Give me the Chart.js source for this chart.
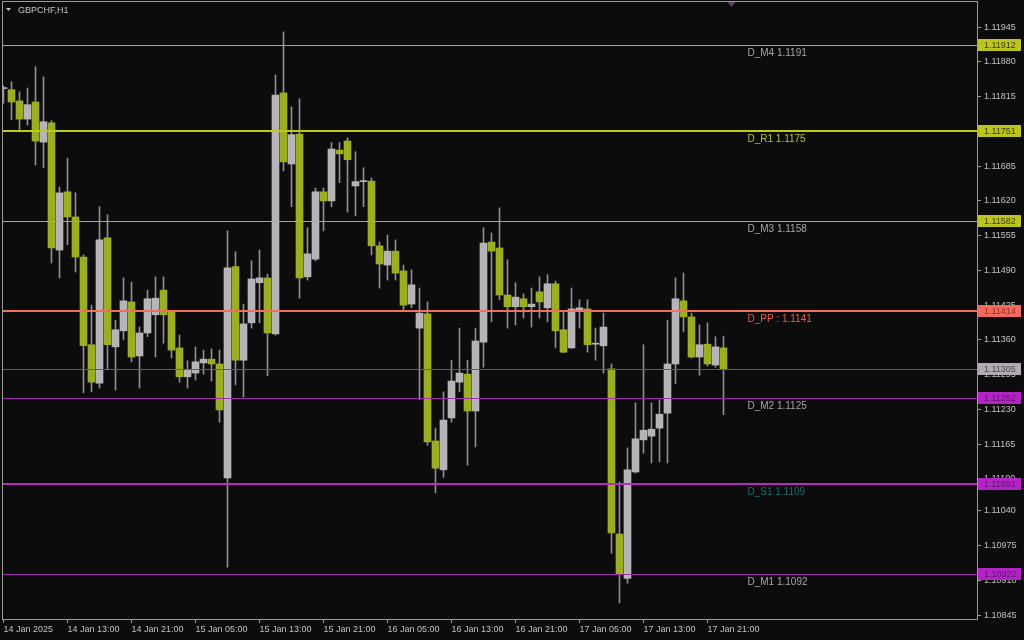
<!DOCTYPE html>
<html>
<head>
<meta charset="utf-8">
<title>GBPCHF,H1</title>
<script src="https://cdn.jsdelivr.net/npm/chart.js@4.4.1/dist/chart.umd.min.js"></script>
<style>
  html, body { margin: 0; padding: 0; background: #0c0c0c; overflow: hidden; }
  canvas { display: block; }
</style>
</head>
<body>
<canvas id="chart-area" width="1024" height="640"></canvas>
<script>
// GBPCHF H1 candles, 14 Jan 05:00 .. 17 Jan 23:00
const opens = [
  1.11830, 1.11828, 1.11807, 1.11773, 1.11805, 1.11730, 1.11766, 1.11528, 1.11637, 1.11590,
  1.11515, 1.11351, 1.11279, 1.11551, 1.11347, 1.11377, 1.11431, 1.11330, 1.11373, 1.11407,
  1.11453, 1.11412, 1.11345, 1.11291, 1.11298, 1.11317, 1.11324, 1.11315, 1.11102, 1.11497,
  1.11322, 1.11392, 1.11467, 1.11476, 1.11371, 1.11822, 1.11689, 1.11745, 1.11478, 1.11511,
  1.11637, 1.11620, 1.11715, 1.11732, 1.11648, 1.11656, 1.11657, 1.11536, 1.11500, 1.11526,
  1.11489, 1.11427, 1.11382, 1.11409, 1.11171, 1.11117, 1.11214, 1.11281, 1.11296, 1.11227,
  1.11356, 1.11543, 1.11532, 1.11444, 1.11422, 1.11437, 1.11422, 1.11450, 1.11420, 1.11465,
  1.11379, 1.11345, 1.11414, 1.11418, 1.11352, 1.11349, 1.11306, 1.10997, 1.10914, 1.11113,
  1.11173, 1.11180, 1.11195, 1.11223, 1.11315, 1.11433, 1.11403, 1.11328, 1.11352, 1.11313,
  1.11345
];
const highs = [
  1.11835, 1.11843, 1.11824, 1.11831, 1.11871, 1.11852, 1.11770, 1.11646, 1.11700, 1.11635,
  1.11519, 1.11425, 1.11609, 1.11594, 1.11397, 1.11476, 1.11468, 1.11384, 1.11453, 1.11478,
  1.11478, 1.11414, 1.11369, 1.11321, 1.11347, 1.11341, 1.11343, 1.11341, 1.11564, 1.11525,
  1.11427, 1.11508, 1.11528, 1.11483, 1.11856, 1.11936, 1.11796, 1.11811, 1.11570, 1.11644,
  1.11644, 1.11729, 1.11729, 1.11738, 1.11712, 1.11682, 1.11663, 1.11543, 1.11556, 1.11547,
  1.11500, 1.11491, 1.11457, 1.11431, 1.11195, 1.11263, 1.11322, 1.11382, 1.11322, 1.11382,
  1.11570, 1.11560, 1.11607, 1.11510, 1.11467, 1.11446, 1.11457, 1.11478, 1.11482, 1.11470,
  1.11412, 1.11457, 1.11435, 1.11435, 1.11382, 1.11410, 1.11315, 1.11094, 1.11158, 1.11242,
  1.11351, 1.11242, 1.11248, 1.11397, 1.11476, 1.11485, 1.11410, 1.11388, 1.11392, 1.11366,
  1.11367
];
const lows = [
  1.11803, 1.11772, 1.11749, 1.11762, 1.11687, 1.11682, 1.11504, 1.11476, 1.11538, 1.11487,
  1.11261, 1.11263, 1.11270, 1.11304, 1.11266, 1.11360, 1.11319, 1.11270, 1.11366, 1.11328,
  1.11354, 1.11326, 1.11281, 1.11270, 1.11285, 1.11296, 1.11283, 1.11206, 1.10935, 1.11276,
  1.11253, 1.11382, 1.11392, 1.11293, 1.11369, 1.11676, 1.11609, 1.11438, 1.11472, 1.11508,
  1.11564, 1.11609, 1.11654, 1.11599, 1.11592, 1.11609, 1.11519, 1.11457, 1.11472, 1.11472,
  1.11416, 1.11420, 1.11248, 1.11163, 1.11074, 1.11103, 1.11206, 1.11263, 1.11126, 1.11160,
  1.11309, 1.11394, 1.11435, 1.11382, 1.11388, 1.11401, 1.11384, 1.11401, 1.11394, 1.11345,
  1.11336, 1.11344, 1.11382, 1.11337, 1.11322, 1.11298, 1.10961, 1.10868, 1.10905, 1.11111,
  1.11148, 1.11130, 1.11132, 1.11130, 1.11278, 1.11375, 1.11326, 1.11294, 1.11311, 1.11309,
  1.11220
];
const closes = [
  1.11830, 1.11805, 1.11773, 1.11800, 1.11732, 1.11768, 1.11532, 1.11635, 1.11590, 1.11515,
  1.11349, 1.11281, 1.11547, 1.11351, 1.11379, 1.11433, 1.11328, 1.11373, 1.11437, 1.11438,
  1.11407, 1.11341, 1.11291, 1.11304, 1.11319, 1.11324, 1.11315, 1.11229, 1.11495, 1.11322,
  1.11390, 1.11474, 1.11476, 1.11373, 1.11818, 1.11693, 1.11744, 1.11476, 1.11521, 1.11637,
  1.11620, 1.11717, 1.11708, 1.11697, 1.11656, 1.11657, 1.11536, 1.11502, 1.11526, 1.11485,
  1.11425, 1.11463, 1.11410, 1.11169, 1.11120, 1.11210, 1.11283, 1.11298, 1.11227, 1.11358,
  1.11541, 1.11526, 1.11444, 1.11422, 1.11440, 1.11422, 1.11427, 1.11431, 1.11465, 1.11377,
  1.11337, 1.11418, 1.11420, 1.11351, 1.11352, 1.11384, 1.10999, 1.10922, 1.11117, 1.11175,
  1.11191, 1.11193, 1.11221, 1.11315, 1.11437, 1.11403, 1.11328, 1.11351, 1.11315, 1.11347,
  1.11305
];

// time axis labels (every 8 bars)
const xTickIdx = [0, 8, 16, 24, 32, 40, 48, 56, 64, 72, 80, 88];
const xTickLabels = ['14 Jan 2025', '14 Jan 13:00', '14 Jan 21:00', '15 Jan 05:00', '15 Jan 13:00',
  '15 Jan 21:00', '16 Jan 05:00', '16 Jan 13:00', '16 Jan 21:00', '17 Jan 05:00', '17 Jan 13:00', '17 Jan 21:00'];

// price axis labels
const yTicks = [1.11945, 1.11880, 1.11815, 1.11750, 1.11685, 1.11620, 1.11555, 1.11490, 1.11425,
  1.11360, 1.11295, 1.11230, 1.11165, 1.11100, 1.11040, 1.10975, 1.10910, 1.10845];

// daily pivot levels
const levelNames = ['D_M4', 'D_R1', 'D_M3', 'D_PP', 'D_M2', 'D_S1', 'D_M1'];
const levelValues = [1.11912, 1.11751, 1.11582, 1.11414, 1.11252, 1.11091, 1.10922];

const OLIVE = '#9cad22';
const GREY = '#b5b5b8';
const AXIS = '#9c9c9c';

const levelStyle = {
  D_M4: { line: '#adb52a', w: 1, text: '#a6a6a6', tag: '#bcc41e', tagText: '#3c3c10', sep: ' ' },
  D_R1: { line: '#c0c81e', w: 2, text: '#b6c12a', tag: '#bcc41e', tagText: '#3c3c10', sep: ' ' },
  D_M3: { line: '#adb52a', w: 1, text: '#a6a6a6', tag: '#bcc41e', tagText: '#3c3c10', sep: ' ' },
  D_PP: { line: '#f0705e', w: 2, text: '#f05a4a', tag: '#f26a5c', tagText: '#9a2a2a', sep: ' : ' },
  D_M2: { line: '#a02ca8', w: 1, text: '#a6a6a6', tag: '#b424c4', tagText: '#5e1470', sep: ' ' },
  D_S1: { line: '#b82ac4', w: 2, text: '#1f6b72', tag: '#b424c4', tagText: '#5e1470', sep: ' ' },
  D_M1: { line: '#a02ca8', w: 1, text: '#a6a6a6', tag: '#b424c4', tagText: '#5e1470', sep: ' ' }
};

const bodyData = opens.map((o, i) => ({ x: i, y: [o, closes[i]] }));
const wickData = lows.map((l, i) => ({ x: i, y: [l, highs[i]] }));
const bodyColors = opens.map((o, i) => closes[i] >= o ? GREY : OLIVE);

function tag(ctx, py, bg, fg, text) {
  ctx.fillStyle = bg;
  ctx.fillRect(978, Math.round(py) - 6, 43, 12);
  ctx.fillStyle = fg;
  ctx.font = '9px "Liberation Sans", Arial, sans-serif';
  ctx.textBaseline = 'middle';
  ctx.textAlign = 'left';
  ctx.fillText(text, 984, Math.round(py) + 0.5);
}

const decor = {
  id: 'decor',
  beforeDraw(chart) {
    const ctx = chart.ctx;
    ctx.save();
    ctx.fillStyle = '#0c0c0c';
    ctx.fillRect(0, 0, chart.width, chart.height);
    ctx.restore();
  },
  afterDatasetsDraw(chart) {
    const { ctx, chartArea: a, scales: { x, y } } = chart;
    ctx.save();
    // bid line at last close
    const bidY = Math.round(y.getPixelForValue(closes[closes.length - 1])) + 0.5;
    ctx.strokeStyle = '#665a66';
    ctx.lineWidth = 1;
    ctx.beginPath(); ctx.moveTo(a.left, bidY); ctx.lineTo(a.right, bidY); ctx.stroke();

    const textX = x.getPixelForValue(93);
    levelValues.forEach((v, i) => {
      const s = levelStyle[levelNames[i]];
      const py = Math.round(y.getPixelForValue(v)) + (s.w % 2 ? 0.5 : 0);
      ctx.strokeStyle = s.line;
      ctx.lineWidth = s.w;
      ctx.beginPath(); ctx.moveTo(a.left, py); ctx.lineTo(a.right, py); ctx.stroke();
      ctx.fillStyle = s.text;
      ctx.font = '10px "Liberation Sans", Arial, sans-serif';
      ctx.textBaseline = 'top';
      ctx.fillText(levelNames[i] + s.sep + v.toFixed(4), textX, py + 3);
    });
    ctx.restore();
  },
  afterDraw(chart) {
    const { ctx, chartArea: a, scales: { x, y } } = chart;
    ctx.save();
    // frame
    ctx.strokeStyle = AXIS;
    ctx.lineWidth = 1;
    ctx.strokeRect(a.left - 0.5, a.top - 0.5, a.right - a.left + 1, a.bottom - a.top + 1);

    // price tags on the axis
    const last = closes[closes.length - 1];
    tag(ctx, y.getPixelForValue(last), '#b2aab2', '#4e4e4e', last.toFixed(5));
    levelValues.forEach((v, i) => {
      const s = levelStyle[levelNames[i]];
      tag(ctx, y.getPixelForValue(v), s.tag, s.tagText, v.toFixed(5));
    });

    // symbol caption
    ctx.fillStyle = '#c4c4c4';
    ctx.beginPath(); ctx.moveTo(6, 8); ctx.lineTo(11, 8); ctx.lineTo(8.5, 11); ctx.closePath(); ctx.fill();
    ctx.font = '9px "Liberation Sans", Arial, sans-serif';
    ctx.textBaseline = 'middle';
    ctx.textAlign = 'left';
    ctx.fillText('GBPCHF,H1', 18, 10.5);

    // chart shift marker
    const sx = x.getPixelForValue(91);
    ctx.fillStyle = '#5e3e5e';
    ctx.beginPath(); ctx.moveTo(sx - 4, a.top); ctx.lineTo(sx + 4, a.top); ctx.lineTo(sx, a.top + 5); ctx.closePath(); ctx.fill();
    ctx.restore();
  }
};

window.onload = function() {
  let ctx = document.getElementById('chart-area').getContext('2d');
  new Chart(ctx, {
    type: 'bar',
    data: {
      datasets: [{
        label: 'body',
        data: bodyData,
        backgroundColor: bodyColors,
        barThickness: 7,
        minBarLength: 1,
        grouped: false,
        borderWidth: 0
      }, {
        label: 'wick',
        data: wickData,
        backgroundColor: '#8e8e92',
        barThickness: 1,
        grouped: false,
        borderWidth: 0
      }]
    },
    options: {
      responsive: false,
      animation: false,
      devicePixelRatio: 1,
      layout: { padding: { left: 3, top: 2, right: 0, bottom: 0 } },
      plugins: { legend: { display: false }, tooltip: { enabled: false } },
      scales: {
        x: {
          type: 'linear',
          offset: false,
          min: -0.0625,
          max: 121.69,
          border: { display: false },
          grid: { offset: false, drawOnChartArea: false, drawTicks: true, tickLength: 4, color: AXIS },
          afterBuildTicks: (s) => { s.ticks = xTickIdx.map(v => ({ value: v })); },
          afterFit: (s) => { s.height = 21; s.paddingLeft = 0; s.paddingRight = 0; },
          ticks: {
            autoSkip: false,
            maxRotation: 0,
            align: 'start',
            padding: 1,
            color: '#c2c2c2',
            font: { family: '"Liberation Sans", Arial, sans-serif', size: 9 },
            callback: (v) => xTickLabels[xTickIdx.indexOf(v)]
          }
        },
        y: {
          position: 'right',
          min: 1.10838,
          max: 1.11992,
          border: { display: false },
          grid: { drawOnChartArea: false, drawTicks: true, tickLength: 4, color: AXIS },
          afterBuildTicks: (s) => { s.ticks = yTicks.map(v => ({ value: v })); },
          afterFit: (s) => { s.width = 47; s.paddingTop = 0; s.paddingBottom = 0; },
          ticks: {
            padding: 3,
            color: '#c2c2c2',
            font: { family: '"Liberation Sans", Arial, sans-serif', size: 9 },
            callback: (v) => v.toFixed(5)
          }
        }
      }
    },
    plugins: [decor]
  });
};
</script>
</body>
</html>
